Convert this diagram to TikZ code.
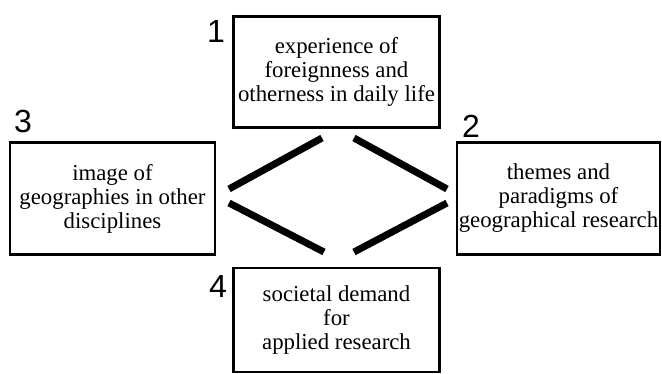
\documentclass[tikz,border=0pt]{standalone}
\usepackage{fontspec}
\setmainfont{Liberation Serif}
\newfontfamily\numfont{Liberation Sans}
\begin{document}
\begin{tikzpicture}[x=1pt,y=-1pt,
  box/.style={draw=black, line width=2.6pt, inner sep=0pt, align=center,
    font=\fontsize{22.8}{24}\selectfont},
  num/.style={inner sep=0pt, font=\numfont\fontsize{32}{32}\selectfont},
  bar/.style={line width=7pt, line cap=butt}]
\useasboundingbox (0,0) rectangle (662,374);
\node[box, minimum width=206pt, minimum height=111pt] (b1) at (336.5,72) {experience of\\foreignness and\\otherness in daily life};
\node[box, minimum width=203pt, minimum height=112pt] (b2) at (558.5,198.5) {themes and\\paradigms of\\geographical research};
\node[box, minimum width=205pt, minimum height=112pt] (b3) at (112.5,198.5) {image of\\geographies in other\\disciplines};
\node[box, minimum width=206pt, minimum height=104pt] (b4) at (336.5,320) {societal demand\\for\\applied research};
\node[num] (n1) at (216,31) {1};
\node[num] (n2) at (471,126) {2};
\node[num] (n3) at (23,121) {3};
\node[num] (n4) at (218,286) {4};
\coordinate (ul1) at (229,189);
\coordinate (ul2) at (322,138);
\coordinate (ur1) at (354,138);
\coordinate (ur2) at (447,189);
\coordinate (ll1) at (229,203);
\coordinate (ll2) at (324,252);
\coordinate (lr1) at (354,252);
\coordinate (lr2) at (447,203);
\draw[bar] (ul1) -- (ul2);
\draw[bar] (ur1) -- (ur2);
\draw[bar] (ll1) -- (ll2);
\draw[bar] (lr1) -- (lr2);
\end{tikzpicture}
\end{document}
